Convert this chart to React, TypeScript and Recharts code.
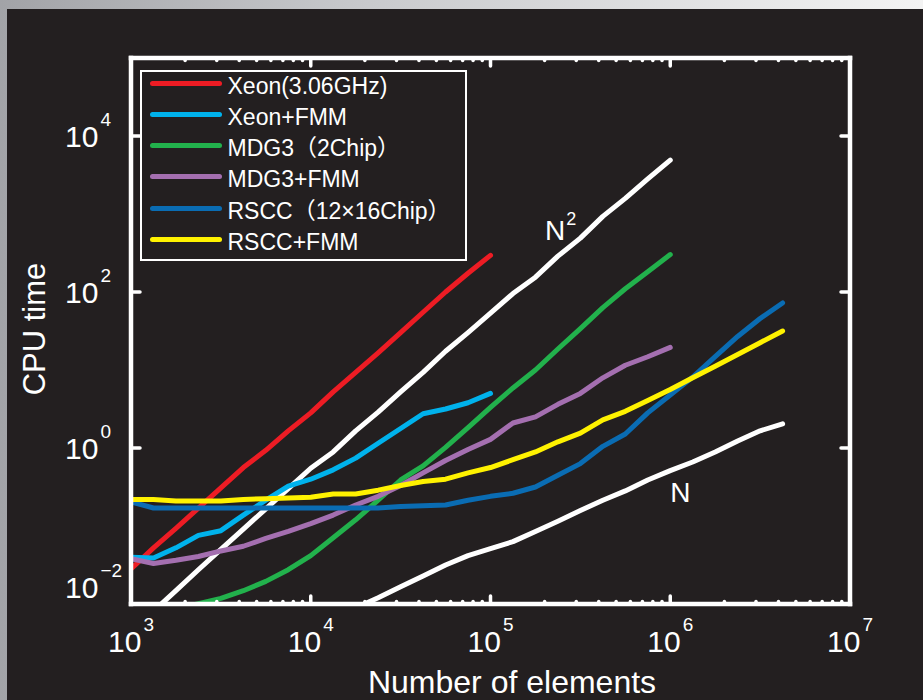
import { LineChart, Line, XAxis, YAxis, Legend, ReferenceDot, Label } from 'recharts';

const WIDTH = 923;
const HEIGHT = 700;
const PLOT = { left: 131, top: 58, right: 850, bottom: 604 };
const AXIS = 1; // recharts skips axes of zero size
const BG = '#231f20';
const FONT = '"Liberation Sans", Arial, "Noto Sans CJK JP", sans-serif';

// number of elements (1/8 decade steps)
const ELEMENTS = [
  1000, 1334, 1778, 2371, 3162, 4217, 5623, 7499,
  10000, 13335, 17783, 23714, 31623, 42170, 56234, 74989,
  100000, 133352, 177828, 237137, 316228, 421697, 562341, 749894,
  1000000, 1333521, 1778279, 2371374, 3162278, 4216965,
];

// CPU time
const XEON = [0.0282, 0.0525, 0.0933, 0.17, 0.309, 0.562, 0.933, 1.66, 2.82, 5.25, 9.33, 16.6, 30.2, 55, 100, 174, 295];
const XEON_FMM = [0.0398, 0.0389, 0.0525, 0.0759, 0.0871, 0.138, 0.214, 0.324, 0.398, 0.525, 0.741, 1.15, 1.78, 2.75, 3.16, 3.8, 5.01];
const MDG3 = [null, null, 0.0087, 0.0101, 0.0118, 0.0148, 0.0195, 0.0275, 0.0417, 0.0708, 0.12, 0.214, 0.389, 0.589, 1.02, 1.82, 3.31, 5.89, 10, 18.6, 33.9, 63.1, 110, 182, 302];
const MDG3_FMM = [0.038, 0.0331, 0.0363, 0.0407, 0.0479, 0.055, 0.0692, 0.0851, 0.107, 0.138, 0.186, 0.24, 0.331, 0.479, 0.692, 0.955, 1.29, 2.09, 2.51, 3.63, 5.01, 7.94, 11.5, 14.8, 19.5];
const RSCC = [0.204, 0.17, 0.17, 0.17, 0.17, 0.17, 0.17, 0.17, 0.17, 0.17, 0.17, 0.17, 0.178, 0.182, 0.186, 0.214, 0.24, 0.263, 0.316, 0.447, 0.631, 1.05, 1.51, 2.82, 4.79, 8.13, 14.8, 26.9, 45.7, 72.4];
const RSCC_FMM = [0.219, 0.219, 0.209, 0.209, 0.209, 0.219, 0.224, 0.229, 0.234, 0.257, 0.257, 0.288, 0.331, 0.372, 0.398, 0.479, 0.562, 0.708, 0.891, 1.2, 1.55, 2.29, 2.95, 4.07, 5.62, 7.94, 11.2, 15.8, 22.4, 31.6];
const N_SQUARED = [null, 0.0081, 0.0148, 0.0275, 0.0501, 0.0912, 0.166, 0.302, 0.55, 0.891, 1.66, 2.88, 5.25, 9.33, 17.4, 30.2, 53.7, 95.5, 155, 288, 490, 933, 1585, 2818, 4898];
const N_LINEAR = [null, null, null, null, null, null, null, null, null, null, 0.0089, 0.012, 0.0166, 0.0229, 0.0316, 0.0417, 0.0513, 0.0631, 0.0851, 0.115, 0.158, 0.214, 0.282, 0.389, 0.513, 0.661, 0.891, 1.23, 1.66, 2.04];

const X_MAJOR = [1e3, 1e4, 1e5, 1e6, 1e7];
const X_MINOR = X_MAJOR.slice(0, -1).flatMap(d => [2, 3, 4, 5, 6, 7, 8, 9].map(m => m * d));
const X_TICKS = [...X_MAJOR, ...X_MINOR].sort((a, b) => a - b);
const Y_TICKS = [1e-2, 1, 1e2, 1e4];

const SERIES = [
  { key: 'xeon', name: 'Xeon(3.06GHz)', color: '#ed1c24', values: XEON },
  { key: 'xeonFmm', name: 'Xeon+FMM', color: '#00b2ec', values: XEON_FMM },
  { key: 'mdg3', name: 'MDG3（2Chip）', color: '#22b14c', values: MDG3 },
  { key: 'mdg3Fmm', name: 'MDG3+FMM', color: '#a46fb0', values: MDG3_FMM },
  { key: 'rscc', name: 'RSCC（12×16Chip）', color: '#0a6cb3', values: RSCC },
  { key: 'rsccFmm', name: 'RSCC+FMM', color: '#fff200', values: RSCC_FMM },
];
const GUIDES = [
  { key: 'nSquared', values: N_SQUARED },
  { key: 'nLinear', values: N_LINEAR },
];

const rows = ELEMENTS.map((n, i) => {
  const row: Record<string, number | null> = { n };
  [...SERIES, ...GUIDES].forEach(s => { row[s.key] = s.values[i] ?? null; });
  return row;
});

const isMajor = (v: number) => Math.abs(Math.log10(v) - Math.round(Math.log10(v))) < 1e-9;
const expText = (v: number) => {
  const e = Math.round(Math.log10(v));
  return e < 0 ? `\u2212${-e}` : `${e}`;
};

// eslint-disable-next-line @typescript-eslint/no-explicit-any
const XTick = ({ x, payload, side }: any) => {
  const v = payload.value;
  const major = isMajor(v);
  const y0 = side === 'top' ? PLOT.top : PLOT.bottom;
  const dir = side === 'top' ? 1 : -1;
  const inside = v > X_MAJOR[0] && v < X_MAJOR[X_MAJOR.length - 1];
  return (
    <g>
      {inside && (
        <line x1={x} x2={x} y1={y0} y2={y0 + dir * (major ? 8 : 2.5)}
          stroke="#fff" strokeWidth={3.5} strokeLinecap="round" />
      )}
      {side === 'bottom' && major && (
        <text x={x} y={PLOT.bottom + 48} textAnchor="middle" fill="#fff" fontSize={30} fontFamily={FONT}>
          10<tspan dx={2} dy={-21} fontSize={19}>{expText(v)}</tspan>
        </text>
      )}
    </g>
  );
};

// eslint-disable-next-line @typescript-eslint/no-explicit-any
const YTick = ({ y, payload, side }: any) => {
  const v = payload.value;
  const x0 = side === 'left' ? PLOT.left : PLOT.right;
  const dir = side === 'left' ? 1 : -1;
  const inside = v > Y_TICKS[0];
  const base = v === Y_TICKS[0] ? y - 6 : y + 11;
  return (
    <g>
      {inside && (
        <line x1={x0} x2={x0 + dir * 9} y1={y} y2={y}
          stroke="#fff" strokeWidth={3.5} strokeLinecap="round" />
      )}
      {side === 'left' && (
        <text x={65} y={base} fill="#fff" fontSize={30} fontFamily={FONT}>
          10<tspan dx={2} dy={-21} fontSize={19}>{expText(v)}</tspan>
        </text>
      )}
    </g>
  );
};

const LegendBox = () => (
  <div style={{
    boxSizing: 'border-box', width: 327, height: 191, border: '2.5px solid #fff',
    background: BG, paddingLeft: 7.5,
  }}>
    <div style={{ marginTop: -4 }}>
      {SERIES.map(s => (
        <div key={s.key} style={{ display: 'flex', alignItems: 'center', height: 31.14 }}>
          <span style={{ width: 72, height: 5, borderRadius: 3, background: s.color, marginRight: 6, flex: 'none' }} />
          <span style={{
            color: '#fff', fontSize: 23, fontFamily: FONT, lineHeight: 1,
            whiteSpace: 'nowrap', position: 'relative', top: 3,
          }}>
            {s.name}
          </span>
        </div>
      ))}
    </div>
  </div>
);

const frame = { stroke: '#fff', strokeWidth: 4.5, strokeLinecap: 'square' as const };

export default function App() {
  return (
    <div style={{
      position: 'relative', width: WIDTH, height: HEIGHT, overflow: 'hidden',
      background: 'linear-gradient(to right, #a2a3a7 0%, #c9cacd 40%, #f3f3f3 100%)',
    }}>
      <style>{'body{margin:0}'}</style>
      <div style={{ position: 'absolute', left: 7, top: 9, right: 0, bottom: 0, background: BG }} />
      <div style={{ position: 'absolute', left: 0, top: 0 }}>
        <LineChart
          width={WIDTH}
          height={HEIGHT}
          data={rows}
          margin={{
            top: PLOT.top - AXIS,
            left: PLOT.left - AXIS,
            right: WIDTH - PLOT.right - AXIS,
            bottom: HEIGHT - PLOT.bottom - AXIS,
          }}
        >
          <XAxis
            dataKey="n" type="number" scale="log" domain={[1e3, 1e7]} allowDataOverflow
            ticks={X_TICKS} interval={0} height={AXIS} tickSize={0} tickMargin={0}
            tickLine={false} axisLine={frame}
            tick={(p: any) => <XTick {...p} side="bottom" />}
          >
            <Label
              content={() => (
                <text x={512} y={693} textAnchor="middle" fill="#fff" fontSize={32} fontFamily={FONT}>
                  Number of elements
                </text>
              )}
            />
          </XAxis>
          <XAxis
            xAxisId="top" orientation="top" dataKey="n" type="number" scale="log" domain={[1e3, 1e7]}
            allowDataOverflow ticks={X_TICKS} interval={0} height={AXIS} tickSize={0} tickMargin={0}
            tickLine={false} axisLine={frame}
            tick={(p: any) => <XTick {...p} side="top" />}
          />
          <YAxis
            type="number" scale="log" domain={[1e-2, 1e5]} allowDataOverflow
            ticks={Y_TICKS} interval={0} width={AXIS} tickSize={0} tickMargin={0}
            tickLine={false} axisLine={frame}
            tick={(p: any) => <YTick {...p} side="left" />}
          >
            <Label
              content={() => (
                <text x={45} y={329} textAnchor="middle" fill="#fff" fontSize={31} fontFamily={FONT}
                  transform="rotate(-90 45 329)">
                  CPU time
                </text>
              )}
            />
          </YAxis>
          <YAxis
            yAxisId="right" orientation="right" type="number" scale="log" domain={[1e-2, 1e5]}
            allowDataOverflow ticks={Y_TICKS} interval={0} width={AXIS} tickSize={0} tickMargin={0}
            tickLine={false} axisLine={frame}
            tick={(p: any) => <YTick {...p} side="right" />}
          />

          {GUIDES.map(g => (
            <Line
              key={g.key} dataKey={g.key} type="linear" stroke="#fff" strokeWidth={5}
              strokeLinecap="round" strokeLinejoin="round" dot={false} activeDot={false}
              legendType="none" isAnimationActive={false}
            />
          ))}
          {SERIES.map(s => (
            <Line
              key={s.key} dataKey={s.key} name={s.name} type="linear" stroke={s.color} strokeWidth={5}
              strokeLinecap="round" strokeLinejoin="round" dot={false} activeDot={false}
              isAnimationActive={false}
            />
          ))}

          <ReferenceDot
            x={2.01e5} y={464} r={0}
            shape={(p: any) => (
              <text x={p.cx} y={p.cy} fill="#fff" fontSize={28} fontFamily={FONT}>
                N<tspan dx={1} dy={-15} fontSize={18}>2</tspan>
              </text>
            )}
          />
          <ReferenceDot
            x={1e6} y={0.203} r={0}
            shape={(p: any) => (
              <text x={p.cx} y={p.cy} fill="#fff" fontSize={28} fontFamily={FONT}>N</text>
            )}
          />

          <Legend
            layout="horizontal" verticalAlign="middle" align="center"
            width={327} height={191}
            wrapperStyle={{ left: 140, top: 70, width: 327, height: 191 }}
            content={LegendBox}
          />
        </LineChart>
      </div>
    </div>
  );
}
